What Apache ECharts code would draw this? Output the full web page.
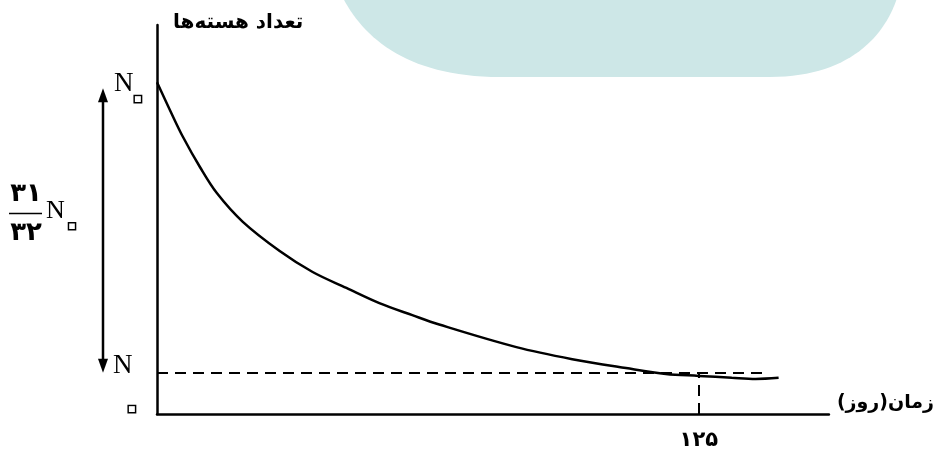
<!DOCTYPE html>
<html><head><meta charset="utf-8">
<script src="https://cdn.jsdelivr.net/npm/echarts@6/dist/echarts.min.js"></script>
<style>html,body{margin:0;padding:0;background:#fff}#c{width:937px;height:452px}</style>
</head><body><div id="c"></div>
<script>
// ---- data ----
const curveX = [0, 3.0, 6.0, 9.9, 13.8, 19.8, 28.3, 35.9, 43.7, 51.3, 58.9, 65.1, 82.9, 95.8, 108.2, 117.4, 125, 132.6, 138.1, 143.4];
const curveY = [85.3, 78.1, 71.2, 63.5, 56.8, 49.4, 41.9, 36.5, 32.4, 28.5, 25.4, 23.0, 17.2, 14.1, 11.8, 10.3, 9.8, 9.3, 9.0, 9.3];
const n0Level = 85.3;          // N0
const nLevel = 10.6;           // N (dashed level)
const tMarked = 125;           // marked time (days)
const dashEndX = 140.7;
const xTickLabels = {125: '۱۲۵'};
const xAxisName = 'زمان(روز)';
const yAxisName = 'تعداد هسته‌ها';
const nText = 'N';
const zeroText = '۰';
const fracNum = '۳۱';
const fracDen = '۳۲';

const chart = echarts.init(document.getElementById('c'));
const serif = '"Liberation Serif","DejaVu Serif",serif';
const sans = '"DejaVu Sans","Noto Sans",sans-serif';
chart.setOption({
  animation: false,
  backgroundColor: '#fff',
  grid: {left: 157, right: 107, top: 25, bottom: 38},
  xAxis: {
    type: 'value', min: 0, max: 155, interval: 125,
    axisLine: {lineStyle: {color: '#000', width: 2.5}},
    axisTick: {show: false}, splitLine: {show: false},
    axisLabel: {margin: 16, color: '#000', fontSize: 21, fontWeight: 'bold', fontFamily: sans,
      formatter: v => xTickLabels[v] || ''},
    name: xAxisName, nameLocation: 'end', nameGap: 8,
    nameTextStyle: {color: '#000', fontSize: 19, fontWeight: 'bold', fontFamily: sans,
      align: 'left', verticalAlign: 'bottom', padding: [0, 0, 1, 0]}
  },
  yAxis: {
    type: 'value', min: 0, max: 100,
    axisLine: {lineStyle: {color: '#000', width: 2.5}},
    axisTick: {show: false}, splitLine: {show: false}, axisLabel: {show: false},
    name: yAxisName, nameLocation: 'end', nameGap: 2,
    nameTextStyle: {color: '#000', fontSize: 20, fontWeight: 'bold', fontFamily: sans,
      align: 'left', verticalAlign: 'middle', padding: [0, 0, 0, 16]}
  },
  series: [{
    type: 'line', smooth: 0.35, symbol: 'none',
    data: curveX.map((x, i) => [x, curveY[i]]),
    lineStyle: {color: '#000', width: 2.5},
    markLine: {
      silent: true, symbol: 'none', label: {show: false},
      lineStyle: {color: '#000', width: 2, type: [11, 7]},
      data: [
        [{coord: [0, nLevel]}, {coord: [dashEndX, nLevel]}],
        [{coord: [tMarked, 0]}, {coord: [tMarked, nLevel]}]
      ]
    }
  }]
});

function bez(p0, p1, p2, p3, n) {
  const out = [];
  for (let i = 0; i <= n; i++) {
    const t = i / n, u = 1 - t;
    out.push([u*u*u*p0[0] + 3*u*u*t*p1[0] + 3*u*t*t*p2[0] + t*t*t*p3[0],
              u*u*u*p0[1] + 3*u*u*t*p1[1] + 3*u*t*t*p2[1] + t*t*t*p3[1]]);
  }
  return out;
}
const blob = [].concat(
  bez([343, -2], [365, 40], [410, 77], [500, 77], 30),
  bez([770, 77], [850, 77], [885, 35], [897, -2], 30)
);

const yN0 = chart.convertToPixel({yAxisIndex: 0}, n0Level);
const yN = chart.convertToPixel({yAxisIndex: 0}, nLevel);
const y0 = chart.convertToPixel({yAxisIndex: 0}, 0);
const ax = 103;
const yTop = yN0 + 6, yBot = yN;
const midY = (yTop + yBot) / 2;
const ring = (x, y, size) => ({type: 'text', x: x, y: y, style: {text: zeroText, font: 'bold ' + size + 'px ' + sans,
  fill: '#fff', stroke: '#000', lineWidth: 3, lineJoin: 'round', align: 'center', verticalAlign: 'middle'}});
chart.setOption({
  graphic: [
    {type: 'polygon', z: -1, shape: {points: blob}, style: {fill: '#cde7e7'}},
    {type: 'line', shape: {x1: ax, y1: yTop + 10, x2: ax, y2: yBot - 10}, style: {stroke: '#000', lineWidth: 2.5}},
    {type: 'polygon', shape: {points: [[ax, yTop], [ax - 5, yTop + 14], [ax + 5, yTop + 14]]}, style: {fill: '#000'}},
    {type: 'polygon', shape: {points: [[ax, yBot], [ax - 5, yBot - 14], [ax + 5, yBot - 14]]}, style: {fill: '#000'}},
    {type: 'text', x: 114, y: yN0 + 2, style: {text: nText, font: '27px ' + serif, fill: '#000', verticalAlign: 'middle'}},
    ring(138, yN0 + 18, 34),
    {type: 'text', x: 113, y: yN - 7, style: {text: nText, font: '27px ' + serif, fill: '#000', verticalAlign: 'middle'}},
    ring(132, y0 - 4, 34),
    {type: 'text', x: 26, y: midY - 36, style: {text: fracNum, font: 'bold 26px ' + sans, fill: '#000', align: 'center', verticalAlign: 'middle'}},
    {type: 'line', shape: {x1: 9, y1: midY - 17, x2: 42, y2: midY - 17}, style: {stroke: '#000', lineWidth: 1.5}},
    {type: 'text', x: 26, y: midY + 3, style: {text: fracDen, font: 'bold 26px ' + sans, fill: '#000', align: 'center', verticalAlign: 'middle'}},
    {type: 'text', x: 46, y: midY - 19, style: {text: nText, font: '26px ' + serif, fill: '#000', verticalAlign: 'middle'}},
    ring(72, midY - 4, 32)
  ]
});
</script>
</body></html>
